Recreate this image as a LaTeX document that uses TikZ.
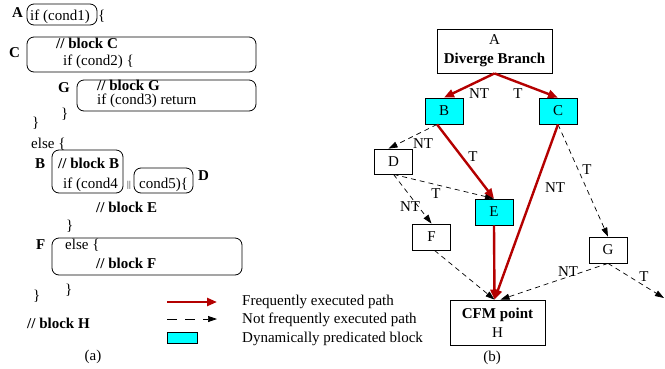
\documentclass[tikz,border=0pt]{standalone}
\usepackage{fontspec}
\setmainfont{Liberation Serif}
\usetikzlibrary{arrows.meta}
\definecolor{freqred}{RGB}{180,0,0}
\definecolor{predcyan}{RGB}{0,255,255}
\tikzset{
  code/.style={anchor=base west, inner sep=0pt},
  region/.style={draw, rounded corners=7pt, line width=0.8pt},
  blk/.style={draw, line width=0.8pt, minimum width=38pt, minimum height=26pt, inner sep=0pt},
  pred/.style={blk, fill=predcyan},
  freq/.style={freqred, line width=2.4pt, -{Triangle[length=10pt,width=8pt]}},
  rare/.style={line width=0.7pt, dash pattern=on 5pt off 4pt, -{Triangle[length=9pt,width=6pt]}},
  lbl/.style={inner sep=0pt},
}
\begin{document}
\begin{tikzpicture}[x=1pt,y=-1pt, every node/.style={font=\fontsize{15}{19}\selectfont}]
\useasboundingbox (0,0) rectangle (665,368);
% (a) source code
\draw[region] (27,4) rectangle (97,25);
\draw[region] (27,37) rectangle (256,72);
\draw[region] (77,80) rectangle (256,111);
\draw[region] (52,150) rectangle (123,193);
\draw[region] (134,168) rectangle (193,193);
\draw[region] (52,238) rectangle (242,275);
\node[code] (tagA) at (12,17) {\textbf{A}};
\node[code] (ifA) at (30,20) {if (cond1)};
\node[code] (brA) at (98,20) {\{};
\node[code] (tagC) at (9,57) {\textbf{C}};
\node[code] (blkC) at (56,48) {\textbf{// block C}};
\node[code] (ifC) at (63,65) {if (cond2) \{};
\node[code] (tagG) at (58,92) {\textbf{G}};
\node[code] (blkG) at (97,90) {\textbf{// block G}};
\node[code] (ifG) at (97,104.5) {if (cond3) return};
\node[code] (clG) at (61,118) {\}};
\node[code] (clA) at (32,127) {\}};
\node[code] (elseA) at (31,148) {else \{};
\node[code] (tagB) at (35,168) {\textbf{B}};
\node[code] (blkB) at (58,168) {\textbf{// block B}};
\node[code] (ifB) at (63,188) {if (cond4};
\node[code, font=\fontsize{9}{10}\selectfont] (orB) at (127,187) {||};
\node[code] (ifD) at (139,188) {cond5)\{};
\node[code] (tagD) at (198,180) {\textbf{D}};
\node[code] (blkE) at (96,212) {\textbf{// block E}};
\node[code] (clE) at (66,230) {\}};
\node[code] (tagF) at (36,249) {\textbf{F}};
\node[code] (elseF) at (65,249) {else \{};
\node[code] (blkF) at (96,268) {\textbf{// block F}};
\node[code] (clF) at (65,294) {\}};
\node[code] (clB) at (33,300) {\}};
\node[code] (blkH) at (27,328) {\textbf{// block H}};
\node (capa) at (93,357) {(a)};
% legend
\coordinate (fr0) at (167,302);
\coordinate (fr1) at (217,302);
\coordinate (nf0) at (167,319);
\coordinate (nf1) at (217,319);
\draw[freq] (fr0) -- (fr1);
\draw[rare, dash pattern=on 10pt off 8pt] (nf0) -- (nf1);
\node[pred, minimum width=30pt, minimum height=11pt] (keyP) at (182,337.5) {};
\node[anchor=west, inner sep=0pt] (keyF) at (242,302) {Frequently executed path};
\node[anchor=west, inner sep=0pt] (keyN) at (242,320) {Not frequently executed path};
\node[anchor=west, inner sep=0pt] (keyD) at (242,339) {Dynamically predicated block};
% (b) control flow graph
\node[blk, minimum width=115pt, minimum height=44pt, align=center] (A) at (494.5,51) {A\\\textbf{Diverge Branch}};
\node[pred] (B) at (444,111) {B};
\node[pred] (C) at (558,111) {C};
\node[blk, minimum height=25pt] (D) at (393.5,161.5) {D};
\node[pred] (E) at (494,212) {E};
\node[blk] (F) at (431.5,237) {F};
\node[blk] (G) at (608,250) {G};
\node[blk, minimum width=95pt, minimum height=45pt, align=center] (H) at (497.5,322.5) {\textbf{CFM point}\\H};
\coordinate (hin) at ([xshift=-3]H.north);
\coordinate (exit) at (664,298);
\draw[rare] ([xshift=-7]B.south) -- ([xshift=-5]D.north);
\draw[rare] (D.south) -- (E.north);
\draw[rare] (D.south) -- (F.north);
\draw[rare] (C.south) -- (G.north);
\draw[rare] ([xshift=3]F.south) -- (hin);
\draw[rare] (G.south) -- ([xshift=3]H.north);
\draw[rare] (G.south) -- (exit);
\draw[freq] (A.south) -- (B.north);
\draw[freq] (A.south) -- (C.north);
\draw[freq] ([xshift=-7]B.south) -- (E.north);
\draw[freq] (C.south) -- (hin);
\draw[freq] (E.south) -- (hin);
\node[lbl] (lAB) at (479,94) {NT};
\node[lbl] (lAC) at (518,94) {T};
\node[lbl] (lBD) at (423,144) {NT};
\node[lbl] (lBE) at (473,157) {T};
\node[lbl] (lCH) at (555,188) {NT};
\node[lbl] (lCG) at (587,170) {T};
\node[lbl] (lDE) at (436,194) {T};
\node[lbl] (lDF) at (410,207) {NT};
\node[lbl] (lGH) at (568,272) {NT};
\node[lbl] (lGX) at (644,277) {T};
\node (capb) at (492,358) {(b)};
\end{tikzpicture}
\end{document}
